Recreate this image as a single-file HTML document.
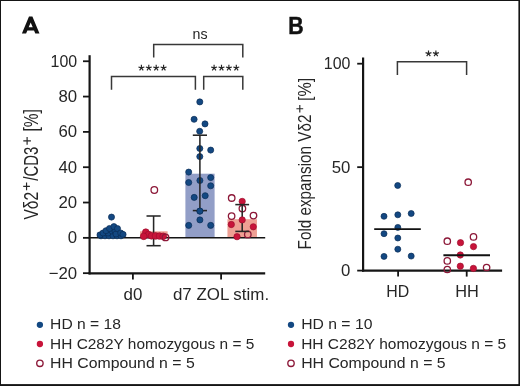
<!DOCTYPE html>
<html><head><meta charset="utf-8"><style>
html,body{margin:0;padding:0;background:#fff;}
svg{display:block;font-family:"Liberation Sans", sans-serif;will-change:transform;}
</style></head><body>
<svg width="520" height="386" viewBox="0 0 520 386">
<rect width="520" height="386" fill="#fff"/>
<path d="M21.9,33.5L29.0,16.4L32.4,16.4L39.5,33.5L35.3,33.5L34.01,30.4L27.39,30.4L26.1,33.5ZM28.67,27.3L32.73,27.3L30.7,22.4Z" fill="#111" fill-rule="evenodd"/>
<g transform="translate(288.2,33.5) scale(0.88,1)"><text x="0" y="0" font-size="24.2" font-weight="bold" fill="#111" stroke="#111" stroke-width="0.5">B</text></g>
<line x1="83.00" y1="61.25" x2="89.60" y2="61.25" stroke="#151515" stroke-width="1.8"/>
<text x="77.20" y="66.85" font-size="16.8" text-anchor="end" fill="#262626" font-weight="normal" textLength="26.6" lengthAdjust="spacingAndGlyphs">100</text>
<line x1="83.00" y1="96.57" x2="89.60" y2="96.57" stroke="#151515" stroke-width="1.8"/>
<text x="77.20" y="102.17" font-size="16.8" text-anchor="end" fill="#262626" font-weight="normal">80</text>
<line x1="83.00" y1="131.89" x2="89.60" y2="131.89" stroke="#151515" stroke-width="1.8"/>
<text x="77.20" y="137.49" font-size="16.8" text-anchor="end" fill="#262626" font-weight="normal">60</text>
<line x1="83.00" y1="167.21" x2="89.60" y2="167.21" stroke="#151515" stroke-width="1.8"/>
<text x="77.20" y="172.81" font-size="16.8" text-anchor="end" fill="#262626" font-weight="normal">40</text>
<line x1="83.00" y1="202.53" x2="89.60" y2="202.53" stroke="#151515" stroke-width="1.8"/>
<text x="77.20" y="208.13" font-size="16.8" text-anchor="end" fill="#262626" font-weight="normal">20</text>
<line x1="83.00" y1="237.85" x2="89.60" y2="237.85" stroke="#151515" stroke-width="1.8"/>
<text x="77.20" y="243.45" font-size="16.8" text-anchor="end" fill="#262626" font-weight="normal">0</text>
<line x1="83.00" y1="273.17" x2="89.60" y2="273.17" stroke="#151515" stroke-width="1.8"/>
<text x="77.20" y="278.77" font-size="16.8" text-anchor="end" fill="#262626" font-weight="normal">−20</text>
<rect x="96.80" y="232.552" width="29.4" height="5.30" fill="#929ec7"/>
<rect x="140.00" y="231.3" width="27.6" height="6.55" fill="#eea094"/>
<rect x="185.40" y="173.7" width="29.2" height="64.15" fill="#929ec7"/>
<rect x="227.45" y="219.2" width="29.5" height="18.65" fill="#eea094"/>
<line x1="88.70" y1="237.85" x2="265.20" y2="237.85" stroke="#151515" stroke-width="1.5"/>
<line x1="153.60" y1="216.00" x2="153.60" y2="245.70" stroke="#262626" stroke-width="1.55"/>
<line x1="146.50" y1="216.00" x2="160.70" y2="216.00" stroke="#262626" stroke-width="1.55"/>
<line x1="146.50" y1="245.70" x2="160.70" y2="245.70" stroke="#262626" stroke-width="1.55"/>
<circle cx="101" cy="235.8" r="3.05" fill="#134882" stroke="#0a2c56" stroke-width="0.7"/>
<circle cx="105" cy="235.8" r="3.05" fill="#134882" stroke="#0a2c56" stroke-width="0.7"/>
<circle cx="109" cy="235.8" r="3.05" fill="#134882" stroke="#0a2c56" stroke-width="0.7"/>
<circle cx="113" cy="235.8" r="3.05" fill="#134882" stroke="#0a2c56" stroke-width="0.7"/>
<circle cx="117" cy="235.8" r="3.05" fill="#134882" stroke="#0a2c56" stroke-width="0.7"/>
<circle cx="121" cy="235.8" r="3.05" fill="#134882" stroke="#0a2c56" stroke-width="0.7"/>
<circle cx="108" cy="233" r="3.05" fill="#134882" stroke="#0a2c56" stroke-width="0.7"/>
<circle cx="112" cy="231" r="3.05" fill="#134882" stroke="#0a2c56" stroke-width="0.7"/>
<circle cx="115" cy="231" r="3.05" fill="#134882" stroke="#0a2c56" stroke-width="0.7"/>
<circle cx="116" cy="234" r="3.05" fill="#134882" stroke="#0a2c56" stroke-width="0.7"/>
<circle cx="100.1" cy="234.9" r="3.05" fill="#134882" stroke="#0a2c56" stroke-width="0.7"/>
<circle cx="103" cy="233" r="3.05" fill="#134882" stroke="#0a2c56" stroke-width="0.7"/>
<circle cx="106" cy="230.7" r="3.05" fill="#134882" stroke="#0a2c56" stroke-width="0.7"/>
<circle cx="109.5" cy="228.5" r="3.05" fill="#134882" stroke="#0a2c56" stroke-width="0.7"/>
<circle cx="113.9" cy="226.6" r="3.05" fill="#134882" stroke="#0a2c56" stroke-width="0.7"/>
<circle cx="117.5" cy="228.6" r="3.05" fill="#134882" stroke="#0a2c56" stroke-width="0.7"/>
<circle cx="120.7" cy="233" r="3.05" fill="#134882" stroke="#0a2c56" stroke-width="0.7"/>
<circle cx="123" cy="234.4" r="3.05" fill="#134882" stroke="#0a2c56" stroke-width="0.7"/>
<circle cx="111.5" cy="217.1" r="3.05" fill="#134882" stroke="#0a2c56" stroke-width="0.7"/>
<circle cx="145.8" cy="232.2" r="3.35" fill="#c8143a" stroke="#9e0f2e" stroke-width="0.7"/>
<circle cx="148.5" cy="234.6" r="3.35" fill="#c8143a" stroke="#9e0f2e" stroke-width="0.7"/>
<circle cx="143.7" cy="236.3" r="3.35" fill="#c8143a" stroke="#9e0f2e" stroke-width="0.7"/>
<circle cx="151.5" cy="235.8" r="3.35" fill="#c8143a" stroke="#9e0f2e" stroke-width="0.7"/>
<circle cx="155.5" cy="235.9" r="3.35" fill="#c8143a" stroke="#9e0f2e" stroke-width="0.7"/>
<circle cx="159.5" cy="236.0" r="3.35" fill="#c8143a" stroke="#9e0f2e" stroke-width="0.7"/>
<circle cx="163.2" cy="236.3" r="3.35" fill="#c8143a" stroke="#9e0f2e" stroke-width="0.7"/>
<circle cx="154.3" cy="190" r="3.3000000000000003" fill="none" stroke="#8c1838" stroke-width="1.3"/>
<circle cx="165.5" cy="237.4" r="3.3000000000000003" fill="none" stroke="#8c1838" stroke-width="1.3"/>
<circle cx="199.8" cy="101.9" r="3.05" fill="#134882" stroke="#0a2c56" stroke-width="0.7"/>
<circle cx="194.1" cy="119.3" r="3.05" fill="#134882" stroke="#0a2c56" stroke-width="0.7"/>
<circle cx="205" cy="123.9" r="3.05" fill="#134882" stroke="#0a2c56" stroke-width="0.7"/>
<circle cx="199.7" cy="131.3" r="3.05" fill="#134882" stroke="#0a2c56" stroke-width="0.7"/>
<circle cx="199.8" cy="148.5" r="3.05" fill="#134882" stroke="#0a2c56" stroke-width="0.7"/>
<circle cx="210.7" cy="150.1" r="3.05" fill="#134882" stroke="#0a2c56" stroke-width="0.7"/>
<circle cx="199.8" cy="156.6" r="3.05" fill="#134882" stroke="#0a2c56" stroke-width="0.7"/>
<circle cx="188.7" cy="172.1" r="3.05" fill="#134882" stroke="#0a2c56" stroke-width="0.7"/>
<circle cx="188.7" cy="182.5" r="3.05" fill="#134882" stroke="#0a2c56" stroke-width="0.7"/>
<circle cx="199.9" cy="180.5" r="3.05" fill="#134882" stroke="#0a2c56" stroke-width="0.7"/>
<circle cx="210.7" cy="177.6" r="3.05" fill="#134882" stroke="#0a2c56" stroke-width="0.7"/>
<circle cx="210.7" cy="185.8" r="3.05" fill="#134882" stroke="#0a2c56" stroke-width="0.7"/>
<circle cx="194.2" cy="197.4" r="3.05" fill="#134882" stroke="#0a2c56" stroke-width="0.7"/>
<circle cx="205.2" cy="195.7" r="3.05" fill="#134882" stroke="#0a2c56" stroke-width="0.7"/>
<circle cx="199.9" cy="211.1" r="3.05" fill="#134882" stroke="#0a2c56" stroke-width="0.7"/>
<circle cx="199.9" cy="219.9" r="3.05" fill="#134882" stroke="#0a2c56" stroke-width="0.7"/>
<circle cx="188.7" cy="225.4" r="3.05" fill="#134882" stroke="#0a2c56" stroke-width="0.7"/>
<circle cx="210.7" cy="225.4" r="3.05" fill="#134882" stroke="#0a2c56" stroke-width="0.7"/>
<line x1="199.90" y1="135.20" x2="199.90" y2="210.60" stroke="#262626" stroke-width="1.55"/>
<line x1="192.80" y1="135.20" x2="207.00" y2="135.20" stroke="#262626" stroke-width="1.55"/>
<line x1="192.80" y1="210.60" x2="207.00" y2="210.60" stroke="#262626" stroke-width="1.55"/>
<circle cx="199.9" cy="211.1" r="3.05" fill="#134882" stroke="#0a2c56" stroke-width="0.7"/>
<circle cx="242.2" cy="201.4" r="3.15" fill="#c8143a" stroke="#9e0f2e" stroke-width="0.7"/>
<circle cx="231.3" cy="224.5" r="3.15" fill="#c8143a" stroke="#9e0f2e" stroke-width="0.7"/>
<circle cx="253.3" cy="226.8" r="3.15" fill="#c8143a" stroke="#9e0f2e" stroke-width="0.7"/>
<circle cx="237" cy="236.7" r="3.15" fill="#c8143a" stroke="#9e0f2e" stroke-width="0.7"/>
<circle cx="231.7" cy="198.0" r="3.25" fill="none" stroke="#8c1838" stroke-width="1.3"/>
<circle cx="242.4" cy="208.5" r="3.25" fill="none" stroke="#8c1838" stroke-width="1.3"/>
<circle cx="231.6" cy="216.1" r="3.25" fill="none" stroke="#8c1838" stroke-width="1.3"/>
<circle cx="253.5" cy="215.6" r="3.25" fill="none" stroke="#8c1838" stroke-width="1.3"/>
<circle cx="247.8" cy="234.4" r="3.25" fill="none" stroke="#8c1838" stroke-width="1.3"/>
<line x1="242.20" y1="204.60" x2="242.20" y2="231.40" stroke="#262626" stroke-width="1.55"/>
<line x1="235.30" y1="204.60" x2="249.10" y2="204.60" stroke="#262626" stroke-width="1.55"/>
<line x1="235.30" y1="231.40" x2="249.10" y2="231.40" stroke="#262626" stroke-width="1.55"/>
<circle cx="242.2" cy="219.9" r="3.15" fill="#c8143a" stroke="#9e0f2e" stroke-width="0.7"/>
<line x1="89.60" y1="55.20" x2="89.60" y2="274.40" stroke="#151515" stroke-width="2.2"/>
<line x1="88.50" y1="273.30" x2="265.20" y2="273.30" stroke="#151515" stroke-width="2.2"/>
<line x1="132.90" y1="273.30" x2="132.90" y2="279.60" stroke="#151515" stroke-width="1.8"/>
<line x1="221.10" y1="273.30" x2="221.10" y2="279.60" stroke="#151515" stroke-width="1.8"/>
<text x="133.00" y="299.60" font-size="16.8" text-anchor="middle" fill="#262626" font-weight="normal" textLength="18.8" lengthAdjust="spacingAndGlyphs">d0</text>
<text x="221.00" y="299.60" font-size="16.8" text-anchor="middle" fill="#262626" font-weight="normal" textLength="96.2" lengthAdjust="spacingAndGlyphs">d7 ZOL stim.</text>
<polyline points="153.7,57.4 153.7,44.5 242.8,44.5 242.8,57.4" fill="none" stroke="#383838" stroke-width="1.5"/>
<text x="200.00" y="39.40" font-size="15.3" text-anchor="middle" fill="#262626" font-weight="normal" textLength="15.0" lengthAdjust="spacingAndGlyphs">ns</text>
<polyline points="111.5,89.8 111.5,76.6 195.4,76.6 195.4,89.8" fill="none" stroke="#383838" stroke-width="1.5"/>
<polyline points="203.7,89.8 203.7,76.6 242.8,76.6 242.8,89.8" fill="none" stroke="#383838" stroke-width="1.5"/>
<path d="M141.40,67.90L141.40,64.80M141.40,67.90L144.35,66.94M141.40,67.90L143.22,70.41M141.40,67.90L139.58,70.41M141.40,67.90L138.45,66.94" stroke="#262626" stroke-width="1.15" fill="none"/>
<path d="M148.80,67.90L148.80,64.80M148.80,67.90L151.75,66.94M148.80,67.90L150.62,70.41M148.80,67.90L146.98,70.41M148.80,67.90L145.85,66.94" stroke="#262626" stroke-width="1.15" fill="none"/>
<path d="M156.20,67.90L156.20,64.80M156.20,67.90L159.15,66.94M156.20,67.90L158.02,70.41M156.20,67.90L154.38,70.41M156.20,67.90L153.25,66.94" stroke="#262626" stroke-width="1.15" fill="none"/>
<path d="M163.60,67.90L163.60,64.80M163.60,67.90L166.55,66.94M163.60,67.90L165.42,70.41M163.60,67.90L161.78,70.41M163.60,67.90L160.65,66.94" stroke="#262626" stroke-width="1.15" fill="none"/>
<path d="M214.10,67.90L214.10,64.80M214.10,67.90L217.05,66.94M214.10,67.90L215.92,70.41M214.10,67.90L212.28,70.41M214.10,67.90L211.15,66.94" stroke="#262626" stroke-width="1.15" fill="none"/>
<path d="M221.50,67.90L221.50,64.80M221.50,67.90L224.45,66.94M221.50,67.90L223.32,70.41M221.50,67.90L219.68,70.41M221.50,67.90L218.55,66.94" stroke="#262626" stroke-width="1.15" fill="none"/>
<path d="M228.90,67.90L228.90,64.80M228.90,67.90L231.85,66.94M228.90,67.90L230.72,70.41M228.90,67.90L227.08,70.41M228.90,67.90L225.95,66.94" stroke="#262626" stroke-width="1.15" fill="none"/>
<path d="M236.30,67.90L236.30,64.80M236.30,67.90L239.25,66.94M236.30,67.90L238.12,70.41M236.30,67.90L234.48,70.41M236.30,67.90L233.35,66.94" stroke="#262626" stroke-width="1.15" fill="none"/>
<g transform="translate(38.2,219.6) rotate(-90)"><text x="0" y="0" font-size="19.5" fill="#262626" textLength="27.8" lengthAdjust="spacingAndGlyphs">V&#948;2</text></g>
<path d="M23.20,186.40H29.90M26.55,182.50V190.30" stroke="#262626" stroke-width="1.15" fill="none"/>
<g transform="translate(38.2,180.7) rotate(-90)"><text x="0" y="0" font-size="19.5" fill="#262626" textLength="34.0" lengthAdjust="spacingAndGlyphs">/CD3</text></g>
<path d="M23.30,140.80H30.90M27.10,136.90V144.70" stroke="#262626" stroke-width="1.15" fill="none"/>
<g transform="translate(38.2,131.6) rotate(-90)"><text x="0" y="0" font-size="19.5" fill="#262626" textLength="22.4" lengthAdjust="spacingAndGlyphs">[%]</text></g>
<line x1="357.20" y1="63.70" x2="363.10" y2="63.70" stroke="#151515" stroke-width="1.8"/>
<text x="350.40" y="69.30" font-size="16.8" text-anchor="end" fill="#262626" font-weight="normal" textLength="26.6" lengthAdjust="spacingAndGlyphs">100</text>
<line x1="357.20" y1="167.15" x2="363.10" y2="167.15" stroke="#151515" stroke-width="1.8"/>
<text x="350.40" y="172.75" font-size="16.8" text-anchor="end" fill="#262626" font-weight="normal">50</text>
<line x1="357.20" y1="270.60" x2="363.10" y2="270.60" stroke="#151515" stroke-width="1.8"/>
<text x="350.40" y="276.20" font-size="16.8" text-anchor="end" fill="#262626" font-weight="normal">0</text>
<line x1="363.10" y1="57.50" x2="363.10" y2="271.60" stroke="#151515" stroke-width="2.2"/>
<line x1="362.00" y1="270.60" x2="502.10" y2="270.60" stroke="#151515" stroke-width="2.2"/>
<line x1="398.10" y1="270.60" x2="398.10" y2="276.60" stroke="#151515" stroke-width="1.8"/>
<line x1="466.70" y1="270.60" x2="466.70" y2="276.60" stroke="#151515" stroke-width="1.8"/>
<circle cx="397.7" cy="185.5" r="3.0" fill="#134882" stroke="#0a2c56" stroke-width="0.7"/>
<circle cx="384" cy="216.3" r="3.0" fill="#134882" stroke="#0a2c56" stroke-width="0.7"/>
<circle cx="397.8" cy="214.8" r="3.0" fill="#134882" stroke="#0a2c56" stroke-width="0.7"/>
<circle cx="411.2" cy="213.5" r="3.0" fill="#134882" stroke="#0a2c56" stroke-width="0.7"/>
<circle cx="397.8" cy="227.4" r="3.0" fill="#134882" stroke="#0a2c56" stroke-width="0.7"/>
<circle cx="384" cy="233.7" r="3.0" fill="#134882" stroke="#0a2c56" stroke-width="0.7"/>
<circle cx="397.8" cy="238" r="3.0" fill="#134882" stroke="#0a2c56" stroke-width="0.7"/>
<circle cx="397.8" cy="249.2" r="3.0" fill="#134882" stroke="#0a2c56" stroke-width="0.7"/>
<circle cx="384" cy="256.4" r="3.0" fill="#134882" stroke="#0a2c56" stroke-width="0.7"/>
<circle cx="411.2" cy="256.1" r="3.0" fill="#134882" stroke="#0a2c56" stroke-width="0.7"/>
<circle cx="460.5" cy="242.7" r="3.15" fill="#c8143a" stroke="#9e0f2e" stroke-width="0.7"/>
<circle cx="473.5" cy="246.6" r="3.15" fill="#c8143a" stroke="#9e0f2e" stroke-width="0.7"/>
<circle cx="460.3" cy="255" r="3.15" fill="#c8143a" stroke="#9e0f2e" stroke-width="0.7"/>
<circle cx="460.3" cy="266.2" r="3.15" fill="#c8143a" stroke="#9e0f2e" stroke-width="0.7"/>
<circle cx="473.4" cy="268.4" r="3.15" fill="#c8143a" stroke="#9e0f2e" stroke-width="0.7"/>
<circle cx="468.2" cy="182.2" r="3.2" fill="none" stroke="#8c1838" stroke-width="1.3"/>
<circle cx="447.3" cy="241.2" r="3.2" fill="none" stroke="#8c1838" stroke-width="1.3"/>
<circle cx="473.5" cy="236.9" r="3.2" fill="none" stroke="#8c1838" stroke-width="1.3"/>
<circle cx="447.3" cy="260.9" r="3.2" fill="none" stroke="#8c1838" stroke-width="1.3"/>
<circle cx="447.3" cy="269.5" r="3.2" fill="none" stroke="#8c1838" stroke-width="1.3"/>
<circle cx="486.6" cy="267.5" r="3.2" fill="none" stroke="#8c1838" stroke-width="1.3"/>
<line x1="374.20" y1="229.10" x2="420.80" y2="229.10" stroke="#111" stroke-width="1.9"/>
<line x1="443.40" y1="255.20" x2="490.00" y2="255.20" stroke="#111" stroke-width="1.9"/>
<text x="397.70" y="296.70" font-size="16.8" text-anchor="middle" fill="#262626" font-weight="normal" textLength="23.0" lengthAdjust="spacingAndGlyphs">HD</text>
<text x="467.00" y="296.70" font-size="16.8" text-anchor="middle" fill="#262626" font-weight="normal" textLength="23.6" lengthAdjust="spacingAndGlyphs">HH</text>
<polyline points="397.4,75.1 397.4,61.8 466.6,61.8 466.6,75.1" fill="none" stroke="#383838" stroke-width="1.5"/>
<path d="M428.50,53.60L428.50,50.50M428.50,53.60L431.45,52.64M428.50,53.60L430.32,56.11M428.50,53.60L426.68,56.11M428.50,53.60L425.55,52.64" stroke="#262626" stroke-width="1.15" fill="none"/>
<path d="M435.90,53.60L435.90,50.50M435.90,53.60L438.85,52.64M435.90,53.60L437.72,56.11M435.90,53.60L434.08,56.11M435.90,53.60L432.95,52.64" stroke="#262626" stroke-width="1.15" fill="none"/>
<g transform="translate(311.4,249.4) rotate(-90)"><text x="0" y="0" font-size="18" fill="#262626" textLength="134.8" lengthAdjust="spacingAndGlyphs">Fold expansion V&#948;2</text></g>
<path d="M296.40,108.70H303.20M299.80,104.90V112.50" stroke="#262626" stroke-width="1.15" fill="none"/>
<g transform="translate(311.4,101.0) rotate(-90)"><text x="0" y="0" font-size="18" fill="#262626" textLength="23.3" lengthAdjust="spacingAndGlyphs">[%]</text></g>
<circle cx="39.9" cy="324.8" r="3.15" fill="#134882"/>
<circle cx="39.9" cy="344.0" r="3.15" fill="#c8143a"/>
<circle cx="39.9" cy="363.3" r="3.2" fill="none" stroke="#8c1838" stroke-width="1.35"/>
<text x="50.10" y="329.30" font-size="15.2" text-anchor="start" fill="#262626" font-weight="normal" textLength="70.9" lengthAdjust="spacingAndGlyphs">HD n = 18</text>
<text x="50.10" y="349.00" font-size="15.2" text-anchor="start" fill="#262626" font-weight="normal" textLength="204.2" lengthAdjust="spacingAndGlyphs">HH C282Y homozygous n = 5</text>
<text x="50.10" y="368.40" font-size="15.2" text-anchor="start" fill="#262626" font-weight="normal" textLength="144.6" lengthAdjust="spacingAndGlyphs">HH Compound n = 5</text>
<circle cx="291.0" cy="324.8" r="3.15" fill="#134882"/>
<circle cx="291.0" cy="344.0" r="3.15" fill="#c8143a"/>
<circle cx="291.0" cy="363.3" r="3.2" fill="none" stroke="#8c1838" stroke-width="1.35"/>
<text x="301.20" y="329.30" font-size="15.2" text-anchor="start" fill="#262626" font-weight="normal" textLength="71.2" lengthAdjust="spacingAndGlyphs">HD n = 10</text>
<text x="301.20" y="349.00" font-size="15.2" text-anchor="start" fill="#262626" font-weight="normal" textLength="205.0" lengthAdjust="spacingAndGlyphs">HH C282Y homozygous n = 5</text>
<text x="301.20" y="368.40" font-size="15.2" text-anchor="start" fill="#262626" font-weight="normal" textLength="144.4" lengthAdjust="spacingAndGlyphs">HH Compound n = 5</text>
<rect x="0" y="0" width="520" height="1" fill="#151515"/>
<rect x="0" y="0" width="1" height="386" fill="#151515"/>
<rect x="518.4" y="0" width="1.6" height="386" fill="#151515"/>
<rect x="0" y="384.1" width="520" height="1.9" fill="#151515"/>
</svg>
</body></html>
